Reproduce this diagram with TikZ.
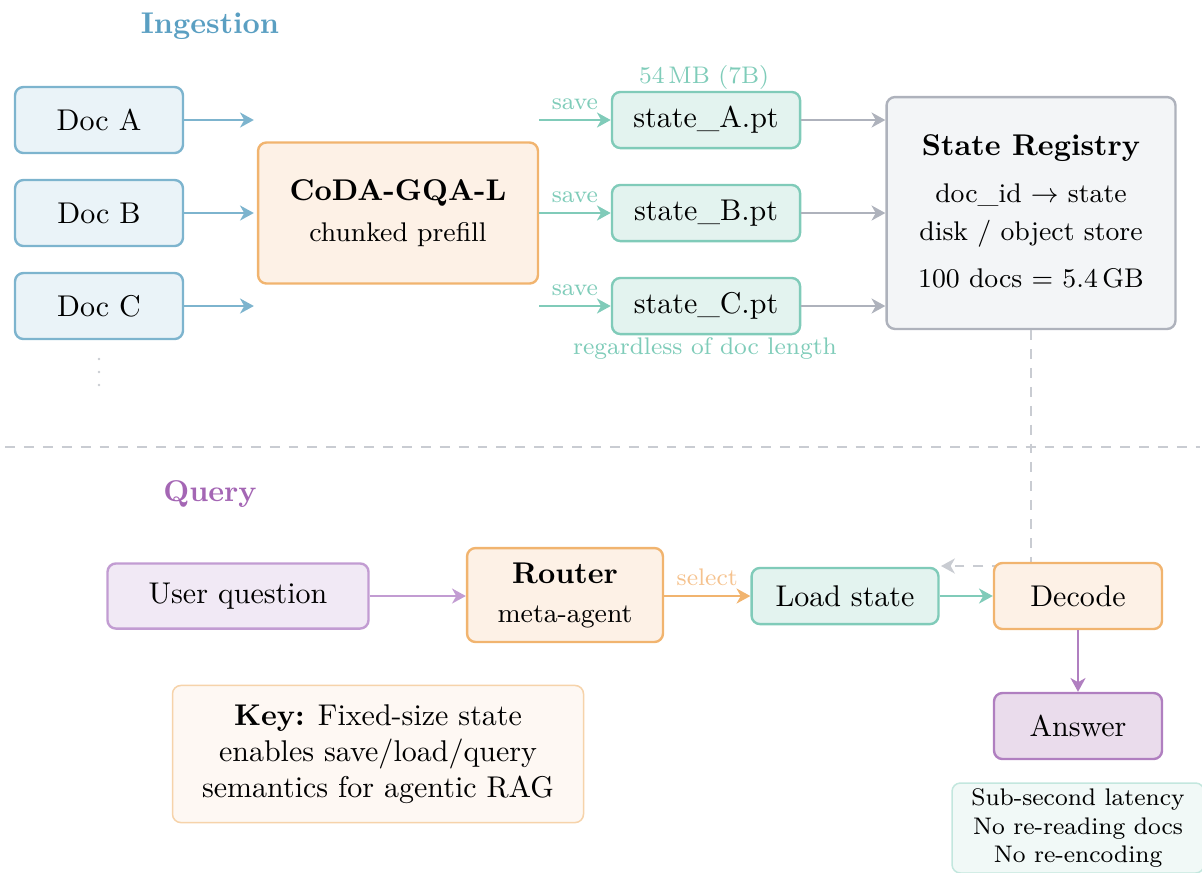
\documentclass[tikz,border=0pt]{standalone}
\usetikzlibrary{arrows.meta}

% palette
\definecolor{bluB}{HTML}{7DB4CE}
\definecolor{bluF}{HTML}{EAF3F8}
\definecolor{bluT}{HTML}{5A9FC2}
\definecolor{grnB}{HTML}{80CBB9}
\definecolor{grnF}{HTML}{E3F3EF}
\definecolor{grnT}{HTML}{7FCCB9}
\definecolor{orgB}{HTML}{F1B46F}
\definecolor{orgF}{HTML}{FDF1E6}
\definecolor{orgT}{HTML}{F5C28E}
\definecolor{gryB}{HTML}{AEB2BC}
\definecolor{gryF}{HTML}{F3F5F7}
\definecolor{gryL}{HTML}{C9CCD2}
\definecolor{purB}{HTML}{C29CD2}
\definecolor{purF}{HTML}{F1E9F5}
\definecolor{purA}{HTML}{B07FC0}
\definecolor{purAF}{HTML}{EADCEC}
\definecolor{purT}{HTML}{A466B4}
\definecolor{keyB}{HTML}{F6D3AA}
\definecolor{keyF}{HTML}{FEF8F3}
\definecolor{noteB}{HTML}{C3E7DE}
\definecolor{noteF}{HTML}{F1F9F7}

\tikzset{
  box/.style={draw, rounded corners=2.8pt, line width=0.8pt, align=center, inner sep=0pt},
  docbox/.style={box, draw=bluB, fill=bluF, minimum width=56pt, minimum height=22pt},
  statebox/.style={box, draw=grnB, fill=grnF, minimum width=62.7pt, minimum height=18.7pt},
  orgbox/.style={box, draw=orgB, fill=orgF},
  arr/.style={-{Stealth[length=4.6pt,width=5pt,inset=1.4pt]}, line width=0.85pt},
  lbl/.style={inner sep=0pt, font=\footnotesize},
  title/.style={inner sep=0pt, font=\bfseries},
}

\begin{document}
\begin{tikzpicture}[x=0.33333pt,y=-0.33333pt]
\useasboundingbox (0,0) rectangle (1202,872);
\clip (0,0) rectangle (1202,872);

% ---------------- ingestion ----------------
\node[title, text=bluT] (ttlIn) at (210,26) {Ingestion};

\node[docbox] (dA) at (99,120) {Doc A};
\node[docbox] (dB) at (99,213) {Doc B};
\node[docbox] (dC) at (99,306) {Doc C};
% more documents
\foreach \yy in {359,372,385}
  \fill[gryL] (99,\yy) circle (0.45pt);

\node[orgbox, minimum width=93.3pt, minimum height=47pt] (coda) at (398,213)
  {\textbf{CoDA-GQA-L}\\[1.5pt]\small chunked prefill};

\node[statebox] (sA) at (706,120) {state\_A.pt};
\node[statebox] (sB) at (706,213) {state\_B.pt};
\node[statebox] (sC) at (706,306) {state\_C.pt};
\node[lbl, text=grnT] (size) at (704,77) {54\,MB (7B)};
\node[lbl, text=grnT] (fixed) at (705,348) {regardless of doc length};

\node[box, draw=gryB, fill=gryF, minimum width=96.3pt, minimum height=77.3pt] (reg) at (1031,213) {};
\node[title] (regT) at (1031,148) {State Registry};
\node[inner sep=0pt, font=\small] (reg1) at (1031,195) {doc\_id $\rightarrow$ state};
\node[inner sep=0pt, font=\small] (reg2) at (1031,234) {disk / object store};
\node[inner sep=0pt, font=\small] (reg3) at (1031,278) {100 docs $=$ 5.4\,GB};

% documents into the prefill
\foreach \d in {dA,dB,dC}
  \draw[arr, bluB] (\d.east) -- ([xshift=-1pt]coda.west |- \d.east);

% prefill writes one state file per document
\foreach \s in {sA,sB,sC} {
  \draw[arr, grnB] (coda.east |- \s.west) -- (\s.west)
    node[lbl, text=grnT, midway, above=3pt] (sv\s) {save};
  \draw[arr, gryB] (\s.east) -- (reg.west |- \s.east);
}

% phase divider
\coordinate (divL) at (5,447);
\coordinate (divR) at (1200,447);
\draw[gryL, line width=0.75pt, dash pattern=on 3.3pt off 3pt] (divL) -- (divR);

% ---------------- query ----------------
\node[title, text=purT] (ttlQ) at (210,494) {Query};

\coordinate (back) at (941,566);
\draw[arr, gryL, dash pattern=on 3.3pt off 3pt] (reg.south) |- (back);

\node[box, draw=purB, fill=purF, minimum width=87pt, minimum height=21.7pt] (uq) at (238,596) {User question};
\node[orgbox, minimum width=65.3pt, minimum height=31.3pt] (rt) at (565,595)
  {\textbf{Router}\\[1pt]\small meta-agent};
\node[box, draw=grnB, fill=grnF, minimum width=62.3pt, minimum height=18.7pt] (ls) at (845,596) {Load state};
\node[orgbox, minimum width=56pt, minimum height=22pt] (dec) at (1078,596) {Decode};
\node[box, draw=purA, fill=purAF, minimum width=56pt, minimum height=22pt] (ans) at (1078,726) {Answer};

\draw[arr, purB] (uq.east) -- (rt.west |- uq.east);
\draw[arr, orgB] (rt.east |- ls.west) -- (ls.west)
  node[lbl, text=orgT, midway, above=3pt] (sel) {select};
\draw[arr, grnB] (ls.east) -- (dec.west);
\draw[arr, purA] (dec.south) -- (ans.north);

\node[box, draw=keyB, fill=keyF, line width=0.5pt, minimum width=137pt, minimum height=45.7pt] (key) at (378,754)
  {\textbf{Key:} Fixed-size state\\enables save/load/query\\semantics for agentic RAG};

\node[box, draw=noteB, fill=noteF, line width=0.5pt, minimum width=84pt, minimum height=30pt, font=\footnotesize] (note) at (1078,828)
  {Sub-second latency\\No re-reading docs\\No re-encoding};

\end{tikzpicture}
\end{document}
